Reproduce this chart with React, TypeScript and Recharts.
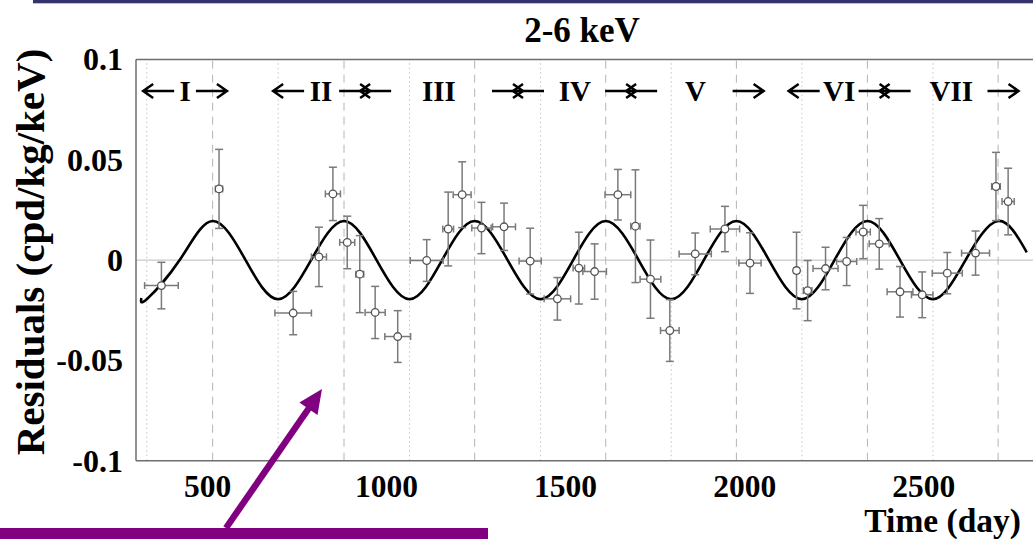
import React from 'react';
import {
    ComposedChart, Line, Scatter, ErrorBar, XAxis, YAxis, ReferenceLine, ReferenceDot,
} from 'recharts';

const SERIF = '"Liberation Serif", "Times New Roman", serif';
const AXIS = '#6e6e6e';

// residual rate per time bin
const binDays = [371, 532, 739, 811, 850, 890, 925, 968, 1031, 1112, 1172, 1211, 1265, 1328, 1401, 1477, 1537, 1581, 1646, 1695,
    1737, 1791, 1862, 1945, 2015, 2145, 2176, 2226, 2285, 2331, 2376, 2434, 2496, 2566, 2645, 2702, 2736];
const binHalfWidths = [47, 10, 51, 21, 21, 21, 11, 28, 36, 46, 15, 25, 27, 32, 31, 37, 16, 33, 36, 13,
    29, 26, 45, 41, 31, 8, 12, 35, 28, 20, 28, 36, 30, 42, 39, 12, 17];
const residuals = [-0.0127, 0.0355, -0.0264, 0.0016, 0.033, 0.0088, -0.007, -0.0261, -0.0381, -0.0002,
    0.0155, 0.0326, 0.016, 0.0166, -0.0005, -0.0193, -0.004, -0.0057, 0.0326, 0.0169,
    -0.0095, -0.0351, 0.0031, 0.0155, -0.0015, -0.0052, -0.0152, -0.0042, -0.0007, 0.014,
    0.0081, -0.0158, -0.0173, -0.0065, 0.0035, 0.0367, 0.0292];
const residualErrors = [0.0116, 0.0197, 0.0108, 0.0148, 0.0133, 0.0131, 0.0192, 0.013, 0.0129, 0.0104,
    0.0184, 0.0164, 0.0128, 0.0118, 0.0164, 0.0106, 0.0179, 0.0138, 0.0126, 0.0281,
    0.0195, 0.0154, 0.0104, 0.0113, 0.0151, 0.0191, 0.015, 0.0106, 0.012, 0.0133,
    0.0126, 0.0126, 0.0114, 0.0103, 0.011, 0.017, 0.0166];

// modulation curve: extrema and zero crossings
const curveDays = [315, 330, 422, 514, 606, 697, 789, 881, 972, 1064, 1155, 1246, 1338, 1430, 1521, 1612, 1704,
    1795, 1886, 1977, 2068, 2160, 2251, 2343, 2434, 2526, 2617, 2708, 2788];
const curveValues = [-0.0189, -0.0195, 0, 0.0195, 0, -0.0195, 0, 0.0195, 0, -0.0195, 0, 0.0195, 0, -0.0195, 0, 0.0195, 0,
    -0.0195, 0, 0.0195, 0, -0.0195, 0, 0.0195, 0, -0.0195, 0, 0.0195, 0.0039];

// guide lines at the expected maxima (dashed) and minima (dotted)
const peakDays = [514, 881, 1246, 1612, 1977, 2343, 2708];
const troughDays = [330, 697, 1064, 1430, 1795, 2160, 2526];

// annual cycles
const cycleNames = ['I', 'II', 'III', 'IV', 'V', 'VI', 'VII'];
const cycleLabelDays = [437, 817, 1146, 1526, 1863, 2264, 2577];
const cycleStartDays = [320, 683, 940, 1367, 1683, 2123, 2391];
const cycleEndDays = [554, 940, 1367, 1683, 2053, 2391, 2765];

const xMajorTicks = [500, 1000, 1500, 2000, 2500];
const xTickLabels = ['500', '1000', '1500', '2000', '2500'];
const yMajorTicks = [-0.1, -0.05, 0, 0.05, 0.1];
const yTickLabels = ['-0.1', '-0.05', '0', '0.05', '0.1'];
const xMinorTicks = Array.from({length: 51}, (_, i) => 300 + 50 * i);
const yMinorTicks = Array.from({length: 21}, (_, i) => -0.1 + 0.01 * i);

const X_DOMAIN: [number, number] = [300, 2820];
const Y_DOMAIN: [number, number] = [-0.1, 0.1];
const ANNOT_Y = 0.0843;

const bins = binDays.map((day, i) => ({
    day,
    value: residuals[i],
    xErr: binHalfWidths[i],
    yErr: residualErrors[i],
}));
const curve = curveDays.map((day, i) => ({day, value: curveValues[i]}));

// dir 1 points right, -1 points left; shift lets two heads cross at a shared boundary
const arrowShape = (dir: number, shift: number) => (p: any) => {
    const tip = p.cx + shift;
    const y = p.cy;
    const tail = tip - dir * 31;
    const head = tip - dir * 10;
    return (
        <path d={`M${tail},${y}L${tip},${y}M${head},${y - 7}L${tip},${y}L${head},${y + 7}`}
              stroke="#000" strokeWidth={2.5} fill="none"/>
    );
};

const Marker = (p: any) => (
    <circle cx={p.cx} cy={p.cy} r={3.8} fill="#fff" stroke="#555" strokeWidth={1.3}/>
);

export default function App() {
    const textStyle = {fontFamily: SERIF, fontWeight: 700, fill: '#000'};
    return (
        <div style={{position: 'absolute', left: 0, top: 0, width: 1033, height: 539, overflow: 'hidden', background: '#fff'}}>
            <ComposedChart width={1040} height={539} margin={{top: 59.5, right: 1.8, bottom: 0, left: 0}}>
                <XAxis type="number" dataKey="day" domain={X_DOMAIN} ticks={xMajorTicks} interval={0}
                       allowDataOverflow tickLine={false} tickSize={0} height={78.3}
                       axisLine={{stroke: AXIS, strokeWidth: 1.5}}
                       tick={(p: any) => (
                           <text x={p.x} y={p.y + 33.8} textAnchor="middle" fontSize={31.5} style={textStyle}>
                               {xTickLabels[p.index]}
                           </text>
                       )}/>
                <XAxis xAxisId="xMinor" type="number" domain={X_DOMAIN} ticks={xMinorTicks} interval={0}
                       allowDataOverflow mirror tick={false} tickSize={8} axisLine={false}
                       tickLine={{stroke: AXIS, strokeWidth: 1.2}}/>
                <XAxis xAxisId="xMajor" type="number" domain={X_DOMAIN} ticks={xMajorTicks} interval={0}
                       allowDataOverflow mirror tick={false} tickSize={16} axisLine={false}
                       tickLine={{stroke: AXIS, strokeWidth: 1.2}}/>
                <XAxis xAxisId="xTop" orientation="top" type="number" domain={X_DOMAIN} allowDataOverflow mirror
                       tick={false} tickLine={false} axisLine={{stroke: AXIS, strokeWidth: 1.5}}/>
                <YAxis type="number" dataKey="value" domain={Y_DOMAIN} ticks={yMajorTicks} interval={0}
                       allowDataOverflow tickLine={false} tickSize={0} width={136}
                       axisLine={{stroke: AXIS, strokeWidth: 1.5}}
                       tick={(p: any) => (
                           <text x={p.x - 11} y={p.y} dy="0.34em" textAnchor="end" fontSize={32} style={textStyle}>
                               {yTickLabels[p.index]}
                           </text>
                       )}/>
                <YAxis yAxisId="yMinor" type="number" domain={Y_DOMAIN} ticks={yMinorTicks} interval={0}
                       allowDataOverflow mirror tick={false} tickSize={9} axisLine={false}
                       tickLine={{stroke: AXIS, strokeWidth: 1.2}}/>
                <YAxis yAxisId="yMajor" type="number" domain={Y_DOMAIN} ticks={yMajorTicks} interval={0}
                       allowDataOverflow mirror tick={false} tickSize={16} axisLine={false}
                       tickLine={{stroke: AXIS, strokeWidth: 1.2}}/>

                <ReferenceLine y={0} stroke="#c9c9c9" strokeWidth={1.3}/>
                {peakDays.map((d) => (
                    <ReferenceLine key={`p${d}`} x={d} stroke="#b4b4b4" strokeWidth={1} strokeDasharray="8 6"/>
                ))}
                {troughDays.map((d) => (
                    <ReferenceLine key={`t${d}`} x={d} stroke="#c4c4c4" strokeWidth={1} strokeDasharray="1.5 3"/>
                ))}

                {cycleNames.map((name, i) => (
                    <ReferenceDot key={`n${name}`} x={cycleLabelDays[i]} y={ANNOT_Y} r={0}
                                  shape={(p: any) => (
                                      <text x={p.cx} y={p.cy + 10} textAnchor="middle" fontSize={29} style={textStyle}>
                                          {name}
                                      </text>
                                  )}/>
                ))}
                {cycleStartDays.map((d, i) => (
                    <ReferenceDot key={`s${i}`} x={d} y={ANNOT_Y} r={0}
                                  shape={arrowShape(-1, i > 0 && cycleEndDays[i - 1] === d ? -5 : 0)}/>
                ))}
                {cycleEndDays.map((d, i) => (
                    <ReferenceDot key={`e${i}`} x={d} y={ANNOT_Y} r={0}
                                  shape={arrowShape(1, i < cycleStartDays.length - 1 && cycleStartDays[i + 1] === d ? 5 : 0)}/>
                ))}

                <Line data={curve} dataKey="value" type="natural" dot={false} stroke="#000" strokeWidth={2.6}
                      isAnimationActive={false}/>
                <Scatter data={bins} dataKey="value" shape={Marker} isAnimationActive={false}>
                    <ErrorBar dataKey="yErr" direction="y" width={4} stroke="#7a7a7a" strokeWidth={1.5}/>
                    <ErrorBar dataKey="xErr" direction="x" width={3.5} stroke="#7a7a7a" strokeWidth={1.5}/>
                </Scatter>
            </ComposedChart>

            <svg width={1033} height={539} style={{position: 'absolute', left: 0, top: 0, pointerEvents: 'none'}}>
                <rect x={33} y={0} width={1000} height={3.3} fill="#34346a"/>
                <text x={582} y={42} textAnchor="middle" fontSize={35} style={textStyle}>2-6 keV</text>
                <text x={44} y={252} textAnchor="middle" fontSize={41} transform="rotate(-90, 44, 252)" style={textStyle}>
                    Residuals (cpd/kg/keV)
                </text>
                <text x={1021} y={531.6} textAnchor="end" fontSize={33.5} style={textStyle}>Time (day)</text>

                <rect x={0} y={528} width={488} height={11} fill="#800080"/>
                <line x1={226} y1={528} x2={309} y2={408} stroke="#800080" strokeWidth={6.5}/>
                <polygon points="322,389 317.5,415 299.4,402.6" fill="#800080"/>
            </svg>
        </div>
    );
}
